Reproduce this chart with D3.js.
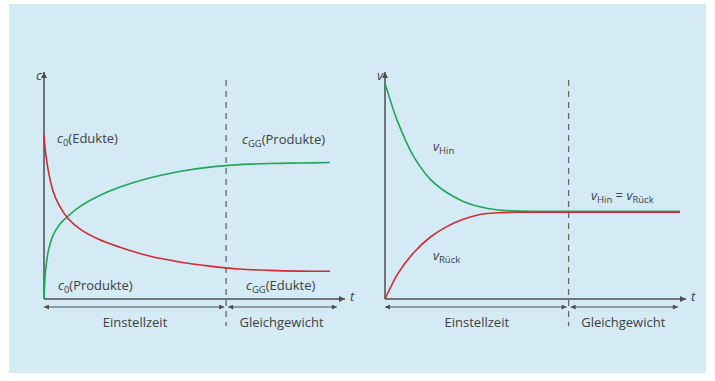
<!DOCTYPE html>
<html><head><meta charset="utf-8">
<script src="https://cdn.jsdelivr.net/npm/d3@7/dist/d3.min.js"></script>
<style>
body{margin:0;background:#fff}
text{font-family:"Open Sans",sans-serif;fill:#404040;font-size:13px}
</style>
</head><body>
<svg id="chart" width="715" height="381"></svg>
<script>
// ---- data ----
const leftTime   = [0,0.05,0.15,0.3,0.5,0.8,1.2,1.8,2.5,3.5,4.5,5.5,6.5,7.5,8.5,9.5];
const cEdukte    = [72.2,64.8,56.0,47.6,41.4,35.5,30.8,26.4,22.9,18.9,16.3,14.5,13.2,12.6,12.3,12.2];
const cProdukte  = [0,12.0,21.5,28.0,32.5,36.5,40.8,45.3,49.2,53.3,56.2,58.1,59.2,59.7,59.9,60.1];
const rightTime  = [0,0.2,0.4,0.95,1.5,2.05,2.6,3.15,3.7,4.5,5.5,6.5,8,9.8];
const vHin       = [95.0,86.6,78.8,62.8,52.8,46.9,43.0,40.6,39.3,38.7,38.6,38.6,38.6,38.6];
const vRueck     = [0,5.5,10.6,20.4,27.2,31.9,35.1,37.2,38.0,38.2,38.2,38.2,38.2,38.2];
const phaseNames = ["Einstellzeit","Gleichgewicht"];
const eqTimeLeft = 6.05, eqTimeRight = 6.1, phaseEnd = 9.73;
const tMax = 10, yMax = 100;

const RED = "#cf2a35", GREEN = "#1fa75a", AXIS = "#4d4d4d";
const svg = d3.select("#chart");
svg.append("rect").attr("x",9).attr("y",4).attr("width",697).attr("height",369).attr("fill","#d4ebf5");

const defs = svg.append("defs");
defs.append("marker").attr("id","axArrow").attr("viewBox","0 0 10 10").attr("refX",10).attr("refY",5)
  .attr("markerWidth",9).attr("markerHeight",6).attr("markerUnits","userSpaceOnUse").attr("orient","auto")
  .append("path").attr("d","M0,0L10,5L0,10Z").attr("fill",AXIS);
defs.append("marker").attr("id","phArrow").attr("viewBox","0 0 10 10").attr("refX",10).attr("refY",5)
  .attr("markerWidth",8).attr("markerHeight",5).attr("markerUnits","userSpaceOnUse").attr("orient","auto-start-reverse")
  .append("path").attr("d","M0,0L10,5L0,10Z").attr("fill",AXIS);

function label(g, x, y, parts, anchor){
  const t = g.append("text").attr("x",x).attr("y",y).attr("text-anchor",anchor||"start");
  let shift = 0;
  parts.forEach(p=>{
    const s = t.append("tspan").text(p.t);
    if(p.it) s.attr("font-style","italic");
    if(p.sub){ s.attr("font-size","9.5px").attr("dy",3-shift); shift=3; }
    else if(shift){ s.attr("dy",-shift); shift=0; }
  });
  return t;
}

function panel(x0, x1, times, s1, s2, c1, c2, eqT, yLab, labels){
  const x = d3.scaleLinear().domain([0,tMax]).range([x0,x1]);
  const y = d3.scaleLinear().domain([0,yMax]).range([299,72]);
  const g = svg.append("g");
  g.append("line").attr("x1",x(eqT)).attr("x2",x(eqT)).attr("y1",80).attr("y2",326)
    .attr("stroke","#666").attr("stroke-width",1.3).attr("stroke-dasharray","6,5");
  g.append("line").attr("x1",x(0)).attr("x2",x(tMax)).attr("y1",y(0)).attr("y2",y(0))
    .attr("stroke",AXIS).attr("stroke-width",1.5).attr("marker-end","url(#axArrow)");
  g.append("line").attr("x1",x(0)).attr("x2",x(0)).attr("y1",y(0)).attr("y2",y(yMax))
    .attr("stroke",AXIS).attr("stroke-width",1.5).attr("marker-end","url(#axArrow)");
  label(g, x(0)-8, 80, [{t:yLab,it:true}]);
  label(g, x(tMax)+5, 301, [{t:"t",it:true}]);
  const py = 307;
  [[0,eqT],[eqT,phaseEnd]].forEach(([a,b],i)=>{
    g.append("line").attr("x1",x(a)+(i?2:0)).attr("x2",x(b)-(i?0:2)).attr("y1",py).attr("y2",py)
      .attr("stroke",AXIS).attr("stroke-width",1)
      .attr("marker-start","url(#phArrow)").attr("marker-end","url(#phArrow)");
    label(g,(x(a)+x(b))/2,327,[{t:phaseNames[i]}],"middle");
  });
  const line = d3.line().x((d,i)=>x(times[i])).y(d=>y(d)).curve(d3.curveCatmullRom.alpha(0.5));
  g.append("path").datum(s2).attr("d",line).attr("fill","none").attr("stroke",c2).attr("stroke-width",1.6);
  g.append("path").datum(s1).attr("d",line).attr("fill","none").attr("stroke",c1).attr("stroke-width",1.6);
  labels.forEach(l=>label(g,l.x,l.y,l.parts));
}

panel(44, 345, leftTime, cEdukte, cProdukte, RED, GREEN, eqTimeLeft, "c", [
  {x:57,y:143,parts:[{t:"c",it:true},{t:"0",sub:true},{t:"(Edukte)"}]},
  {x:242,y:144,parts:[{t:"c",it:true},{t:"GG",sub:true},{t:"(Produkte)"}]},
  {x:58,y:290,parts:[{t:"c",it:true},{t:"0",sub:true},{t:"(Produkte)"}]},
  {x:246,y:290,parts:[{t:"c",it:true},{t:"GG",sub:true},{t:"(Edukte)"}]}
]);
panel(385, 686, rightTime, vRueck, vHin, RED, GREEN, eqTimeRight, "v", [
  {x:433,y:151,parts:[{t:"v",it:true},{t:"Hin",sub:true}]},
  {x:433,y:260,parts:[{t:"v",it:true},{t:"Rück",sub:true}]},
  {x:591,y:200,parts:[{t:"v",it:true},{t:"Hin",sub:true},{t:" = "},{t:"v",it:true},{t:"Rück",sub:true}]}
]);
</script>
</body></html>
